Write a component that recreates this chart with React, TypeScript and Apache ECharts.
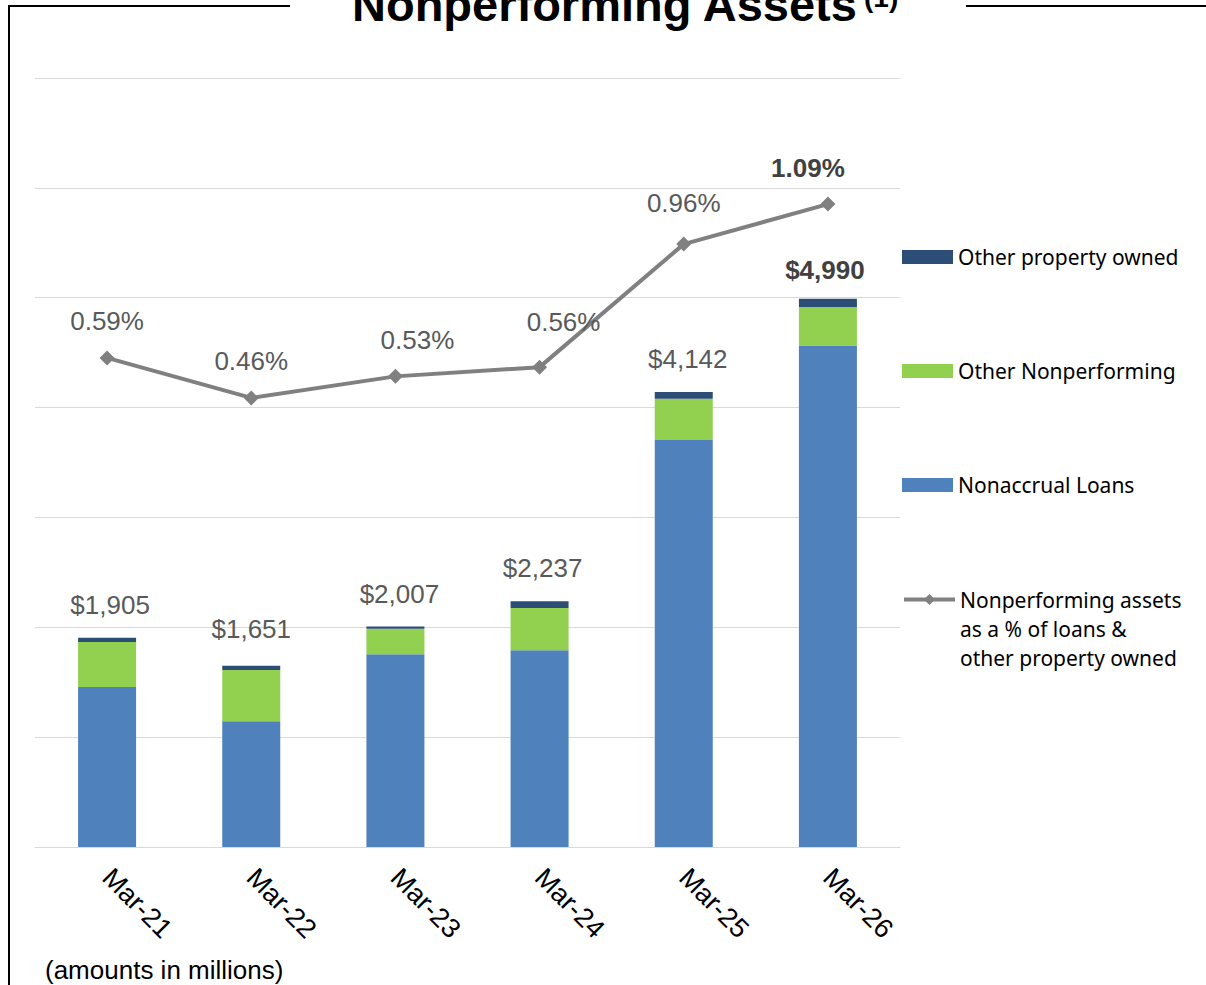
import React, { useEffect, useRef } from "react";
import * as echarts from "echarts";

const categories = ["Mar-21", "Mar-22", "Mar-23", "Mar-24", "Mar-25", "Mar-26"];
const nonaccrualLoans = [1457, 1145, 1755, 1792, 3705, 4565];
const otherNonperforming = [410, 466, 231, 383, 376, 351];
const otherPropertyOwned = [38, 40, 21, 62, 61, 74];
const totals = [1905, 1651, 2007, 2237, 4142, 4990];
const npaPercent = [0.59, 0.46, 0.53, 0.56, 0.96, 1.09];
const yTicks = [0, 1000, 2000, 3000, 4000, 5000, 6000, 7000];

const LINE_NAME = "Nonperforming assets as a % of loans & other property owned";
const ARIAL = "'Liberation Sans', Arial, sans-serif";
const LEGEND_FONT = "'Noto Sans', sans-serif";

// label nudges (presentation only)
const pctLabelOffsets = [[0, 0], [0, 0], [22, 0], [24, -9], [0, -5], [-20, 0]];
const totalLabelOffsets = [[3, 0], [0, -4], [4, 0], [3, 0], [4, 0], [-3, 4]];

export default function App() {
  const ref = useRef<HTMLDivElement>(null);

  useEffect(() => {
    if (!ref.current) return;
    const chart = echarts.init(ref.current, undefined, { renderer: "svg" });
    const last = categories.length - 1;

    const option = {
      animation: false,
      backgroundColor: "#ffffff",
      grid: { left: 35, right: 306, top: 78, bottom: 138, containLabel: false },
      legend: [
        {
          orient: "vertical",
          left: 902,
          top: 245,
          padding: 0,
          itemWidth: 51,
          itemHeight: 14,
          itemGap: 90,
          icon: "rect",
          selectedMode: false,
          data: ["Other property owned", "Other Nonperforming", "Nonaccrual Loans"],
          textStyle: { fontSize: 21, fontFamily: LEGEND_FONT, color: "#000", lineHeight: 24 },
        },
        {
          orient: "vertical",
          left: 902,
          top: 527,
          padding: 0,
          itemWidth: 51,
          itemHeight: 14,
          selectedMode: false,
          data: [LINE_NAME],
          lineStyle: { width: 4, color: "#808080" },
          formatter: () => "\n\nNonperforming assets\nas a % of loans &\nother property owned",
          textStyle: {
            fontSize: 21,
            fontFamily: LEGEND_FONT,
            color: "#000",
            lineHeight: 29,
          },
        },
      ],
      xAxis: {
        type: "category",
        data: categories,
        axisLine: { show: true, lineStyle: { color: "#d9d9d9", width: 1 } },
        axisTick: { show: false },
        axisLabel: { rotate: -45, fontSize: 27, color: "#000", fontFamily: ARIAL, margin: 26 },
      },
      yAxis: [
        {
          type: "value",
          min: yTicks[0],
          max: yTicks[yTicks.length - 1],
          interval: yTicks[1] - yTicks[0],
          axisLabel: { show: false },
          axisLine: { show: false },
          axisTick: { show: false },
          splitLine: { show: true, lineStyle: { color: "#d9d9d9", width: 1 } },
        },
        { type: "value", min: -1, max: 1.5, show: false, splitLine: { show: false } },
      ],
      series: [
        {
          name: "Nonaccrual Loans",
          type: "bar",
          stack: "npa",
          barWidth: 58,
          itemStyle: { color: "#4F81BD" },
          data: nonaccrualLoans,
        },
        {
          name: "Other Nonperforming",
          type: "bar",
          stack: "npa",
          barWidth: 58,
          itemStyle: { color: "#92D050" },
          data: otherNonperforming,
        },
        {
          name: "Other property owned",
          type: "bar",
          stack: "npa",
          barWidth: 58,
          itemStyle: { color: "#2C4D75" },
          data: otherPropertyOwned.map((v, i) => ({
            value: v,
            label: {
              show: true,
              position: "top",
              distance: 20,
              offset: totalLabelOffsets[i],
              formatter: "$" + totals[i].toLocaleString("en-US"),
              fontSize: 26,
              fontFamily: ARIAL,
              fontWeight: i === last ? "bold" : "normal",
              color: i === last ? "#404040" : "#595959",
            },
          })),
        },
        {
          name: LINE_NAME,
          type: "line",
          yAxisIndex: 1,
          symbol: "diamond",
          symbolSize: 15,
          itemStyle: { color: "#808080" },
          lineStyle: { color: "#808080", width: 4 },
          data: npaPercent.map((v, i) => ({
            value: v,
            label: {
              show: true,
              position: "top",
              distance: 16,
              offset: pctLabelOffsets[i],
              formatter: v.toFixed(2) + "%",
              fontSize: 26,
              fontFamily: ARIAL,
              fontWeight: i === last ? "bold" : "normal",
              color: i === last ? "#404040" : "#595959",
            },
          })),
          z: 5,
        },
      ],
      graphic: [
        { type: "line", shape: { x1: 9, y1: 6, x2: 290, y2: 6 }, style: { stroke: "#000", lineWidth: 2 } },
        { type: "line", shape: { x1: 966, y1: 6, x2: 1206, y2: 6 }, style: { stroke: "#000", lineWidth: 2 } },
        { type: "line", shape: { x1: 9, y1: 5, x2: 9, y2: 985 }, style: { stroke: "#000", lineWidth: 2 } },
        {
          type: "text",
          x: 352,
          y: 4,
          style: {
            text: "Nonperforming Assets",
            fontSize: 47,
            fontWeight: "bold",
            fontFamily: ARIAL,
            fill: "#000",
            verticalAlign: "middle",
            align: "left",
          },
        },
        {
          type: "text",
          x: 864,
          y: -3,
          style: {
            text: "(1)",
            fontSize: 28,
            fontWeight: "bold",
            fontFamily: ARIAL,
            fill: "#000",
            verticalAlign: "middle",
            align: "left",
          },
        },
        {
          type: "text",
          x: 45,
          y: 970,
          style: {
            text: "(amounts in millions)",
            fontSize: 26,
            fontFamily: ARIAL,
            fill: "#000",
            verticalAlign: "middle",
            align: "left",
          },
        },
      ],
    };

    chart.setOption(option as any);
    return () => chart.dispose();
  }, []);

  return (
    <div
      ref={ref}
      style={{ position: "fixed", left: 0, top: 0, width: 1206, height: 985, background: "#fff" }}
    />
  );
}
